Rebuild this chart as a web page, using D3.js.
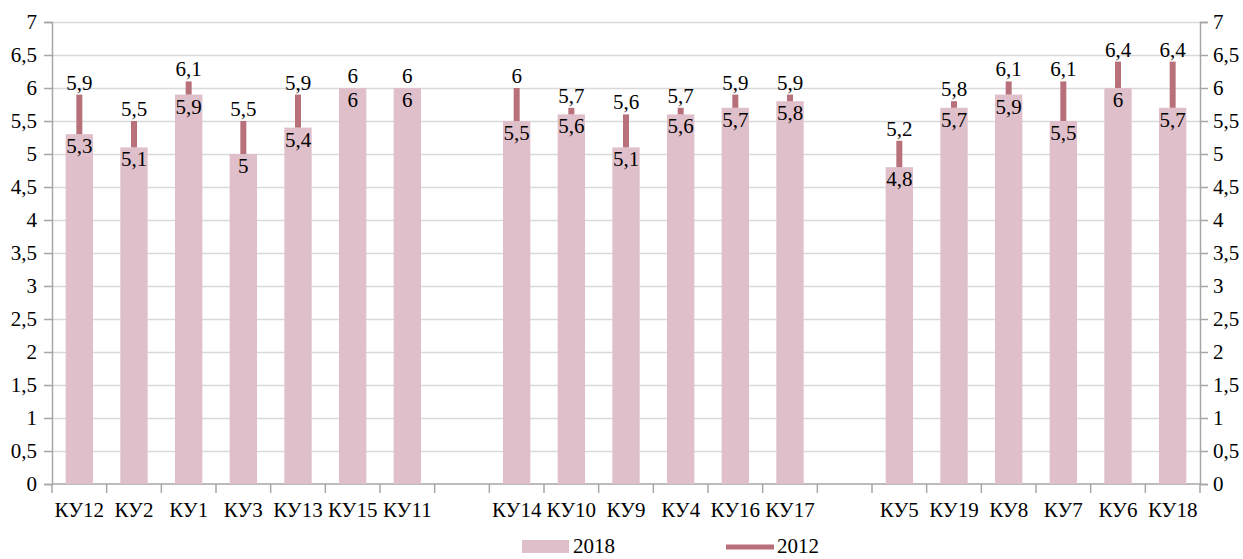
<!DOCTYPE html>
<html>
<head>
<meta charset="utf-8">
<script src="https://cdn.jsdelivr.net/npm/d3@7"></script>
<style>
  body { margin: 0; background: #fff; }
</style>
</head>
<body>
<div id="chart"></div>
<script>
// Categories, null marks an empty slot between the groups.
const categories = ['КУ12', 'КУ2', 'КУ1', 'КУ3', 'КУ13', 'КУ15', 'КУ11', null,
    'КУ14', 'КУ10', 'КУ9', 'КУ4', 'КУ16', 'КУ17', null,
    'КУ5', 'КУ19', 'КУ8', 'КУ7', 'КУ6', 'КУ18'];
const values2018 = [5.3, 5.1, 5.9, 5, 5.4, 6, 6, null,
    5.5, 5.6, 5.1, 5.6, 5.7, 5.8, null,
    4.8, 5.7, 5.9, 5.5, 6, 5.7];
const values2012 = [5.9, 5.5, 6.1, 5.5, 5.9, 6, 6, null,
    6, 5.7, 5.6, 5.7, 5.9, 5.9, null,
    5.2, 5.8, 6.1, 6.1, 6.4, 6.4];
const yTicks = d3.range(0, 7.01, 0.5);
const seriesNames = ['2018', '2012'];

const width = 1243, height = 559;
const margin = {top: 22, right: 43, bottom: 75, left: 52};
const barColor = '#dfbfca';
const lineColor = '#b8717a';
const fontFamily = '"Liberation Serif", "DejaVu Serif", serif';
const fontSize = '21px';
const fmt = d => String(d).replace('.', ',');

const svg = d3.select('#chart')
    .append('svg')
        .attr('width', width)
        .attr('height', height)
        .style('font-family', fontFamily);

// Scales.
const x = d3.scaleBand()
    .domain(d3.range(categories.length))
    .range([margin.left, width - margin.right])
    .paddingInner(0.5)
    .paddingOuter(0.25);
const y = d3.scaleLinear()
    .domain([0, 7])
    .range([height - margin.bottom, margin.top]);
const y0 = y(0);

// Gridlines.
svg.append('g')
    .selectAll('line')
    .data(yTicks.filter(d => d > 0))
    .join('line')
        .attr('x1', margin.left)
        .attr('x2', width - margin.right)
        .attr('y1', d => Math.round(y(d)) + 0.5)
        .attr('y2', d => Math.round(y(d)) + 0.5)
        .attr('stroke', '#d9d9d9')
        .attr('stroke-width', 1.5);

// Left and right Y axes.
const yLeft = svg.append('g')
    .attr('transform', `translate(${margin.left},0)`)
    .call(d3.axisLeft(y).tickValues(yTicks).tickFormat(fmt).tickSize(8).tickPadding(7));
const yRight = svg.append('g')
    .attr('transform', `translate(${width - margin.right},0)`)
    .call(d3.axisRight(y).tickValues(yTicks).tickFormat(fmt).tickSize(8).tickPadding(5));
[yLeft, yRight].forEach(g => {
    g.attr('font-family', null).attr('font-size', null);
    g.selectAll('.domain').attr('stroke', '#a6a6a6').attr('stroke-width', 1.5);
    g.selectAll('.tick line').attr('stroke', '#a6a6a6').attr('stroke-width', 1.5);
    g.selectAll('text').style('font-size', fontSize).style('font-family', fontFamily);
});

// X axis line and the ticks between categories.
svg.append('line')
    .attr('x1', margin.left)
    .attr('x2', width - margin.right)
    .attr('y1', y0)
    .attr('y2', y0)
    .attr('stroke', '#a6a6a6')
    .attr('stroke-width', 1.5);
svg.append('g')
    .selectAll('line')
    .data(d3.range(categories.length + 1))
    .join('line')
        .attr('x1', i => margin.left + i * x.step())
        .attr('x2', i => margin.left + i * x.step())
        .attr('y1', y0)
        .attr('y2', y0 + 9)
        .attr('stroke', '#a6a6a6')
        .attr('stroke-width', 1.5);

const items = categories.map((c, i) => ({i, c, v18: values2018[i], v12: values2012[i]}))
    .filter(d => d.c !== null);

// Category labels.
svg.append('g')
    .selectAll('text')
    .data(items)
    .join('text')
        .attr('x', d => x(d.i) + x.bandwidth() / 2)
        .attr('y', y0 + 33)
        .attr('text-anchor', 'middle')
        .style('font-size', fontSize)
        .text(d => d.c);

// 2018 bars.
svg.append('g')
    .selectAll('rect')
    .data(items)
    .join('rect')
        .attr('x', d => x(d.i))
        .attr('y', d => y(d.v18))
        .attr('width', x.bandwidth())
        .attr('height', d => y0 - y(d.v18))
        .attr('fill', barColor);

// 2012 lines, from the 2018 value up to the 2012 value.
svg.append('g')
    .selectAll('line')
    .data(items)
    .join('line')
        .attr('x1', d => x(d.i) + x.bandwidth() / 2)
        .attr('x2', d => x(d.i) + x.bandwidth() / 2)
        .attr('y1', d => y(d.v18))
        .attr('y2', d => y(d.v12))
        .attr('stroke', lineColor)
        .attr('stroke-width', 6);

// Data labels.
svg.append('g')
    .selectAll('text')
    .data(items)
    .join('text')
        .attr('x', d => x(d.i) + x.bandwidth() / 2)
        .attr('y', d => y(d.v12) - 5)
        .attr('text-anchor', 'middle')
        .style('font-size', fontSize)
        .text(d => fmt(d.v12));
svg.append('g')
    .selectAll('text')
    .data(items)
    .join('text')
        .attr('x', d => x(d.i) + x.bandwidth() / 2)
        .attr('y', d => y(d.v18) + 19)
        .attr('text-anchor', 'middle')
        .style('font-size', fontSize)
        .text(d => fmt(d.v18));

// Legend.
const legend = svg.append('g');
legend.append('rect')
    .attr('x', 522)
    .attr('y', 540)
    .attr('width', 47)
    .attr('height', 13)
    .attr('fill', barColor);
legend.append('text')
    .attr('x', 573)
    .attr('y', 553)
    .style('font-size', fontSize)
    .text(seriesNames[0]);
legend.append('line')
    .attr('x1', 726)
    .attr('x2', 774)
    .attr('y1', 547)
    .attr('y2', 547)
    .attr('stroke', lineColor)
    .attr('stroke-width', 5);
legend.append('text')
    .attr('x', 777)
    .attr('y', 553)
    .style('font-size', fontSize)
    .text(seriesNames[1]);
</script>
</body>
</html>
